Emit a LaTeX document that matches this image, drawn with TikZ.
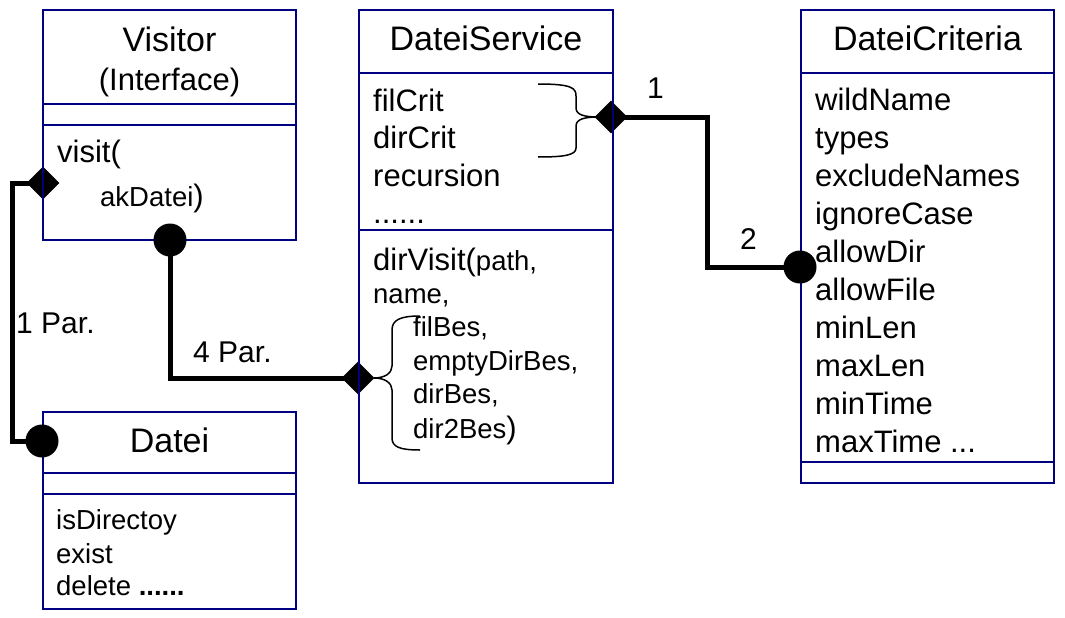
\documentclass[tikz,border=0pt]{standalone}
\usepackage{fontspec}
\setmainfont{Liberation Sans}
\usetikzlibrary{shapes.geometric}
\definecolor{navy}{RGB}{0,0,128}
\newcommand{\fsHead}{\fontsize{34}{38}\selectfont}
\newcommand{\fsAttr}{\fontsize{31}{36}\selectfont}
\newcommand{\fsSmall}{\fontsize{27.5}{32}\selectfont}
\newcommand{\fsLbl}{\fontsize{30}{34}\selectfont}
\begin{document}
\begin{tikzpicture}[x=1pt,y=-1pt,
  box/.style={draw=navy,line width=2.5pt},
  sepline/.style={draw=navy,line width=2pt},
  conn/.style={line width=5pt,line join=miter},
  dia/.style={diamond,aspect=1,fill=black,minimum size=33pt,inner sep=0pt},
  dotm/.style={circle,fill=black,minimum size=33pt,inner sep=0pt},
  head/.style={anchor=base,inner sep=0pt,font=\fsHead},
  attr/.style={anchor=base west,inner sep=0pt,font=\fsAttr},
  small/.style={anchor=base west,inner sep=0pt,font=\fsSmall},
  lbl/.style={anchor=base west,inner sep=0pt,font=\fsLbl},
  bracep/.style={line width=1.5pt}]
\useasboundingbox (0,0) rectangle (1065,618);
\fill[white] (0,0) rectangle (1065,618);

% attachment points
\coordinate (vdc) at (43,183);
\coordinate (vcc) at (170,240);
\coordinate (dcc) at (42,441);
\coordinate (sdl) at (358,378);
\coordinate (sdr) at (611,117);
\coordinate (ccc) at (800,267);

% connectors
\draw[conn] (vdc) -- ++(-31,0) |- (dcc);
\draw[conn] (vcc) |- (sdl);
\draw[conn] (sdr) -- ++(96,0) |- (ccc);

% diamonds
\node[dia] (vdm) at (vdc) {};
\node[dia] (sdlm) at (sdl) {};
\node[dia] (sdrm) at (sdr) {};

% Visitor box
\draw[box] (43,10) rectangle (296,240);
\draw[box] (43,104) -- (296,104);
\draw[sepline] (43,125) -- (296,125);
\node[head] (vT1) at (169.5,52) {Visitor};
\node[head,font=\fsAttr] (vT2) at (169.5,90) {(Interface)};
\node[attr] (vOp1) at (57,162) {visit(};
\node[small] (vOp2) at (100,206) {akDatei{\fsAttr)}};

% Datei box
\draw[box] (43,412) rectangle (296,609);
\draw[box] (43,473) -- (296,473);
\draw[sepline] (43,494) -- (296,494);
\node[head] (dT) at (169.5,452) {Datei};
\node[small] (dA1) at (56,529) {isDirectoy};
\node[small] (dA2) at (56,563) {exist};
\node[small] (dA3) at (56,595) {delete \textbf{......}};

% DateiService box
\draw[box] (359,10) rectangle (613,483);
\draw[box] (359,73) -- (613,73);
\draw[sepline] (359,230) -- (613,230);
\node[head] (sT) at (486,51) {DateiService};
\node[attr] (sA1) at (373,111) {filCrit};
\node[attr] (sA2) at (373,148.5) {dirCrit};
\node[attr] (sA3) at (373,186) {recursion};
\node[attr] (sA4) at (373,223.5) {......};
\node[attr] (sO1) at (373,270) {dirVisit({\fsSmall path,}};
\node[small] (sO2) at (373,303) {name,};
\node[small] (sO3) at (413,336) {filBes,};
\node[small] (sO4) at (413,370) {emptyDirBes,};
\node[small] (sO5) at (413,403) {dirBes,};
\node[small] (sO6) at (413,438) {dir2Bes{\fsAttr)}};

% braces
\draw[bracep] (538,84) .. controls (572,84) and (576,88) .. (576,96) -- (576,108)
  .. controls (576,115) and (585,117) .. (598,117)
  .. controls (585,117) and (576,119) .. (576,126) -- (576,148)
  .. controls (576,155) and (565,157) .. (538,157);
\draw[bracep] (420,316) .. controls (400,316) and (392,320) .. (392,330) -- (392,366)
  .. controls (392,373) and (385,378) .. (374,378)
  .. controls (385,378) and (392,383) .. (392,390) -- (392,438)
  .. controls (392,447) and (400,450) .. (420,450);

% DateiCriteria box
\draw[box] (801,10) rectangle (1054,483);
\draw[box] (801,73) -- (1054,73);
\draw[sepline] (801,462) -- (1054,462);
\node[head] (cT) at (927.5,51) {DateiCriteria};
\node[attr] (cA0) at (815,110) {wildName};
\node[attr] (cA1) at (815,148) {types};
\node[attr] (cA2) at (815,186) {excludeNames};
\node[attr] (cA3) at (815,224) {ignoreCase};
\node[attr] (cA4) at (815,262) {allowDir};
\node[attr] (cA5) at (815,300) {allowFile};
\node[attr] (cA6) at (815,338) {minLen};
\node[attr] (cA7) at (815,376) {maxLen};
\node[attr] (cA8) at (815,414) {minTime};
\node[attr] (cA9) at (815,452) {maxTime ...};

% circles
\node[dotm] (vcm) at (vcc) {};
\node[dotm] (dcm) at (dcc) {};
\node[dotm] (ccm) at (ccc) {};

% labels
\node[lbl] (l1) at (647,98) {1};
\node[lbl] (l2) at (740,249) {2};
\node[lbl] (lp1) at (16,333) {1 Par.};
\node[lbl] (lp4) at (193,362) {4 Par.};
\end{tikzpicture}
\end{document}
